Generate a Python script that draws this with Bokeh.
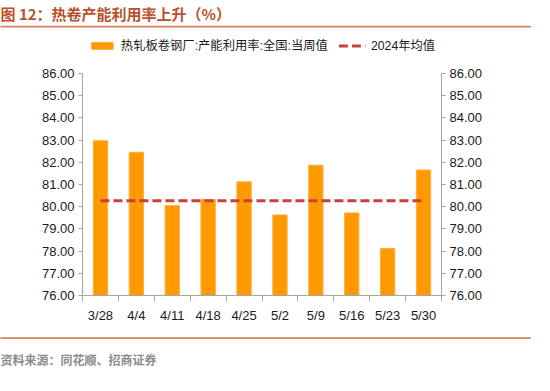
from bokeh.plotting import figure
from bokeh.models import (Range1d, LinearAxis, FixedTicker, Legend, LegendItem,
                          ColumnDataSource, NumeralTickFormatter, Title)
from bokeh.embed import file_html
from bokeh.resources import INLINE

# ---------------- data ----------------
categories = ["3/28", "4/4", "4/11", "4/18", "4/25", "5/2", "5/9", "5/16", "5/23", "5/30"]
utilization = [82.97, 82.45, 80.05, 80.32, 81.12, 79.63, 81.87, 79.72, 78.12, 81.65]
avg_2024 = 80.27
y_ticks = [76, 77, 78, 79, 80, 81, 82, 83, 84, 85, 86]
series_name = "热轧板卷钢厂:产能利用率:全国:当周值"
avg_name = "2024年均值"
title_text = "图 12：热卷产能利用率上升（%）"
source_text = "资料来源：同花顺、招商证券"

# ---------------- styles / layout ----------------
W = 534
ML, MR = 82, 93
PX_PER_UNIT = 22.2          # vertical scale of the value axis
HEADROOM_PX = 46            # room above the axis top for the legend
FONT = "Liberation Sans, 'Noto Sans CJK SC'"
CJK = "Noto Sans CJK SC"
BAR = "#FF9900"
AVG = "#C8403C"
AXIS = "#A6A6A6"
TITLE_C = "#B9512D"
RULE_C = "#D9825F"

xs = list(range(len(categories)))
y_lo, y_hi = y_ticks[0], y_ticks[-1]
plot_px = (y_hi - y_lo) * PX_PER_UNIT
y_view_hi = y_hi + HEADROOM_PX / PX_PER_UNIT

p = figure(frame_width=W - ML - MR, frame_height=round(plot_px + HEADROOM_PX),
           x_range=Range1d(-0.5, len(categories) - 0.5),
           y_range=Range1d(y_lo, y_view_hi), title=None,
           output_backend="svg", toolbar_location=None,
           min_border_left=ML, min_border_right=MR, min_border_top=0, min_border_bottom=0)
p.grid.visible = False
p.outline_line_color = None

src = ColumnDataSource(dict(x=xs, y=utilization))
bars = p.vbar(x="x", top="y", bottom=y_lo, width=0.4, source=src,
              fill_color=BAR, line_color="#FFB040", line_width=1)
avg_line = p.line(x=[xs[0], xs[-1]], y=[avg_2024, avg_2024], line_color=AVG,
                  line_width=3, line_dash="9 4")

# x axis
xa = p.xaxis[0]
xa.ticker = FixedTicker(ticks=xs, minor_ticks=[i - 0.5 for i in range(len(categories) + 1)])
xa.major_label_overrides = {i: c for i, c in zip(xs, categories)}
xa.major_tick_line_color = None
xa.major_tick_out = 0
xa.major_tick_in = 0
xa.minor_tick_out = 6
xa.minor_tick_in = 0
xa.minor_tick_line_color = AXIS
xa.axis_line_color = AXIS
xa.major_label_standoff = 6
xa.major_label_text_font = FONT
xa.major_label_text_font_size = "13px"
xa.major_label_text_color = "#1a1a1a"

def style_y(ax):
    ax.ticker = FixedTicker(ticks=y_ticks)
    ax.bounds = (y_lo, y_hi)
    ax.formatter = NumeralTickFormatter(format="0.00")
    ax.axis_line_color = AXIS
    ax.major_tick_line_color = AXIS
    ax.major_tick_out = 4
    ax.major_tick_in = 0
    ax.minor_tick_line_color = None
    ax.major_label_standoff = 4
    ax.major_label_text_font = FONT
    ax.major_label_text_font_size = "13px"
    ax.major_label_text_color = "#1a1a1a"

style_y(p.yaxis[0])
ry = LinearAxis()
style_y(ry)
p.add_layout(ry, "right")

# legend inside the headroom at top of frame
legend = Legend(items=[LegendItem(label=series_name, renderers=[bars]),
                       LegendItem(label=avg_name, renderers=[avg_line])],
                orientation="horizontal", location="top_center",
                border_line_color=None, background_fill_alpha=0,
                glyph_width=27, glyph_height=9, label_text_font=FONT,
                label_text_font_size="12.3px", label_text_color="#1a1a1a",
                label_height=20, spacing=10, padding=0, margin=8, label_standoff=6)
p.add_layout(legend, "center")

def rule(standoff):
    # thin full-width band (background of a blank title box)
    return Title(text=" ", align="left", offset=-ML, standoff=standoff,
                 text_font_size="1.5px", padding=(0, W - 4, 0, 0),
                 background_fill_color=RULE_C, background_fill_alpha=1,
                 border_line_color=None)

# ---- above panel: rule, title ----
p.add_layout(rule(0), "above")
p.add_layout(Title(text=title_text, align="left", offset=-ML, standoff=0,
                   text_font=CJK, text_font_style="bold", text_font_size="15px",
                   text_color=TITLE_C), "above")

# ---- below panel: x axis, rule, source ----
p.add_layout(rule(19), "below")
p.add_layout(Title(text=source_text, align="left", offset=-ML, standoff=0,
                   vertical_align="bottom",
                   text_font=CJK, text_font_size="12px", text_color="#8C8C8C"), "below")

open("out.html", "w").write(file_html(p, INLINE))
